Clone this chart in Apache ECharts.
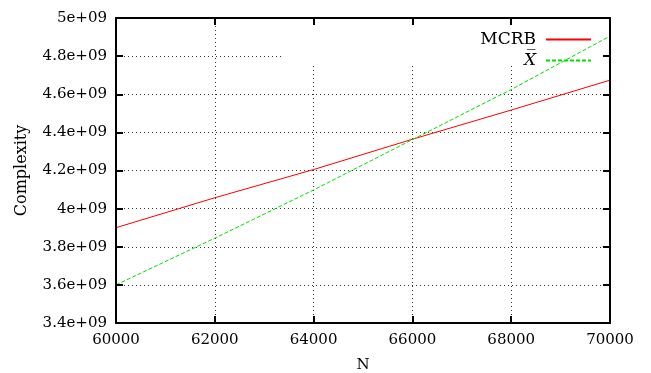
<!DOCTYPE html>
<html>
<head>
<meta charset="utf-8">
<script src="https://cdn.jsdelivr.net/npm/echarts@6/dist/echarts.min.js"></script>
<style>
  html, body { margin: 0; padding: 0; background: #fff; }
  #chart { width: 651px; height: 373px; }
</style>
</head>
<body>
<div id="chart"></div>
<script>
// data
const nValues = [60000, 62000, 64000, 66000, 68000, 70000];
const mcrb = [3.900e9, 4.057e9, 4.205e9, 4.364e9, 4.517e9, 4.674e9];
const xbar = [3.600e9, 3.845e9, 4.098e9, 4.362e9, 4.625e9, 4.905e9];
const xTickLabels = ['60000', '62000', '64000', '66000', '68000', '70000'];
const yTickLabels = ['3.4e+09', '3.6e+09', '3.8e+09', '4e+09', '4.2e+09', '4.4e+09', '4.6e+09', '4.8e+09', '5e+09'];
const seriesNames = ['MCRB', 'X\u0305'];

const FONT = 'DejaVu Serif';
const xRange = { min: 60000, max: 70000, interval: 2000 };
const yRange = { min: 3.4e9, max: 5e9, interval: 0.2e9 };

const chart = echarts.init(document.getElementById('chart'));

// frame + ticks (drawn over everything)
function frameAxis(position, extra) {
  return Object.assign({
    type: 'value', position, z: 3,
    axisLine: { show: true, onZero: false, lineStyle: { color: '#000', width: 2 } },
    axisTick: { show: true, inside: true, length: 7, lineStyle: { color: '#000', width: 2 } },
    axisLabel: { show: false },
    splitLine: { show: false },
  }, extra);
}
// dotted grid only (drawn under the legend patch)
const gridLine = {
  type: 'value', z: 0,
  axisLine: { show: false }, axisTick: { show: false }, axisLabel: { show: false },
  splitLine: { show: true, lineStyle: { color: '#333', width: 1, type: [1, 3] } },
};

chart.setOption({
  animation: false,
  backgroundColor: '#fff',
  grid: { left: 116, right: 41, top: 18, bottom: 50, outerBoundsMode: 'none', containLabel: false },
  xAxis: [
    frameAxis('bottom', Object.assign({}, xRange, {
      name: 'N', nameLocation: 'middle', nameGap: 35,
      nameTextStyle: { fontFamily: FONT, fontSize: 15, color: '#000' },
      axisLabel: {
        show: true, margin: 10, color: '#000', fontFamily: FONT, fontSize: 15,
        formatter: (v, i) => xTickLabels[i],
      },
    })),
    frameAxis('top', Object.assign({}, xRange)),
    Object.assign({}, gridLine, xRange, { position: 'bottom' }),
  ],
  yAxis: [
    frameAxis('left', Object.assign({}, yRange, {
      name: 'Complexity', nameLocation: 'middle', nameGap: 86,
      nameTextStyle: { fontFamily: FONT, fontSize: 16, color: '#000' },
      axisLabel: {
        show: true, margin: 9, color: '#000', fontFamily: FONT, fontSize: 15,
        formatter: (v, i) => yTickLabels[i],
      },
    })),
    frameAxis('right', Object.assign({}, yRange)),
    Object.assign({}, gridLine, yRange, { position: 'left' }),
  ],
  // opaque key area: hides grid lines but not the curves
  graphic: [{
    type: 'rect', z: 1,
    shape: { x: 284, y: 19, width: 325, height: 47 },
    style: { fill: '#fff' },
  }],
  legend: {
    orient: 'vertical', align: 'right',
    right: 59, top: 31, padding: 0,
    itemWidth: 45, itemHeight: 14, itemGap: 4,
    itemStyle: { opacity: 0 },
    formatter: name => name === seriesNames[1] ? '{it|' + name + '}' : name,
    textStyle: {
      fontFamily: FONT, fontSize: 17, color: '#000', padding: [0, 5, 0, 0],
      rich: { it: { fontFamily: FONT, fontSize: 17, fontStyle: 'italic', color: '#000' } },
    },
    data: seriesNames,
  },
  series: [
    {
      name: seriesNames[0], type: 'line', z: 2,
      xAxisIndex: 0, yAxisIndex: 0, symbol: 'none',
      data: nValues.map((n, i) => [n, mcrb[i]]),
      lineStyle: { color: '#ff0000', width: 1 },
      itemStyle: { color: '#ff0000' },
    },
    {
      name: seriesNames[1], type: 'line', z: 2,
      xAxisIndex: 0, yAxisIndex: 0, symbol: 'none',
      data: nValues.map((n, i) => [n, xbar[i]]),
      lineStyle: { color: '#00e000', width: 1, type: [4, 2] },
      itemStyle: { color: '#00e000' },
    },
  ],
});
</script>
</body>
</html>
